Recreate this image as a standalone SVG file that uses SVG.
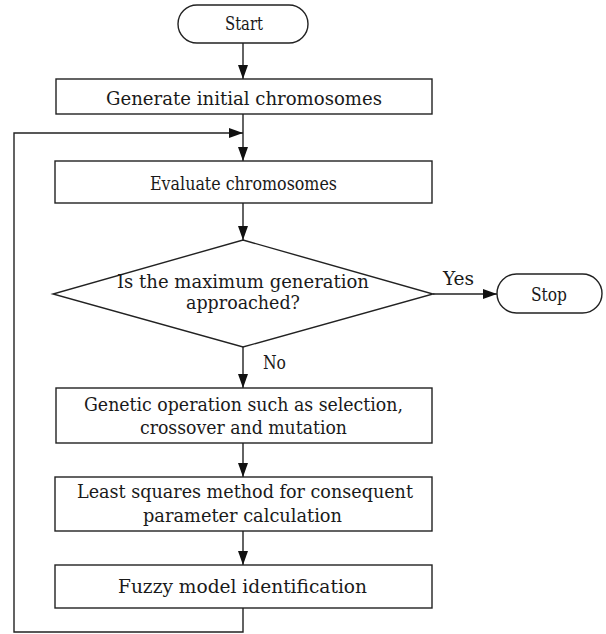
<svg xmlns="http://www.w3.org/2000/svg" width="606" height="634" viewBox="0 0 606 634">
<style>
.shape{fill:#fff;stroke:#222;stroke-width:1.4}
.line{fill:none;stroke:#222;stroke-width:1.4}
text{font-family:'DejaVu Serif Condensed','DejaVu Serif','Liberation Serif',serif;font-stretch:condensed;font-size:18.5px;fill:#1a1a1a}
</style>
<defs>
<marker id="ah" markerWidth="14" markerHeight="10" refX="14" refY="5" orient="auto" markerUnits="userSpaceOnUse">
<path d="M0,0 L14,5 L0,10 Z" fill="#111"/>
</marker>
</defs>
<rect width="606" height="634" fill="#fff"/>
<g id="connectors">
<line class="line" x1="243" y1="43" x2="243" y2="79" marker-end="url(#ah)"/>
<line class="line" x1="243" y1="114" x2="243" y2="161" marker-end="url(#ah)"/>
<line class="line" x1="243" y1="203" x2="243" y2="240" marker-end="url(#ah)"/>
<line class="line" x1="433" y1="294" x2="497" y2="294" marker-end="url(#ah)"/>
<line class="line" x1="243" y1="347" x2="243" y2="388" marker-end="url(#ah)"/>
<line class="line" x1="243" y1="443" x2="243" y2="477" marker-end="url(#ah)"/>
<line class="line" x1="243" y1="531" x2="243" y2="565" marker-end="url(#ah)"/>
<polyline class="line" points="243,608 243,632 14,632 14,133 243,133" marker-end="url(#ah)"/>
<text x="443" y="285" textLength="31" lengthAdjust="spacingAndGlyphs">Yes</text>
<text x="263" y="369" textLength="23" lengthAdjust="spacingAndGlyphs">No</text>
</g>
<g id="start">
<rect class="shape" x="178" y="5" width="130" height="38" rx="19" ry="19"/>
<text x="225" y="30" textLength="38" lengthAdjust="spacingAndGlyphs">Start</text>
</g>
<g id="generate">
<rect class="shape" x="56" y="79" width="376" height="35"/>
<text x="106" y="105" textLength="276" lengthAdjust="spacingAndGlyphs">Generate initial chromosomes</text>
</g>
<g id="evaluate">
<rect class="shape" x="55" y="161" width="377" height="42"/>
<text x="150" y="190" textLength="187" lengthAdjust="spacingAndGlyphs">Evaluate chromosomes</text>
</g>
<g id="decision">
<polygon class="shape" points="243,240 433,294 243,347 53,294"/>
<text x="117" y="288" textLength="252" lengthAdjust="spacingAndGlyphs">Is the maximum generation</text>
<text x="186" y="309" textLength="114" lengthAdjust="spacingAndGlyphs">approached?</text>
</g>
<g id="stop">
<rect class="shape" x="497" y="274" width="105" height="39" rx="19.5" ry="19.5"/>
<text x="531" y="301" textLength="36" lengthAdjust="spacingAndGlyphs">Stop</text>
</g>
<g id="genetic">
<rect class="shape" x="56" y="388" width="376" height="55"/>
<text x="84" y="411" textLength="319" lengthAdjust="spacingAndGlyphs">Genetic operation such as selection,</text>
<text x="140" y="434" textLength="207" lengthAdjust="spacingAndGlyphs">crossover and mutation</text>
</g>
<g id="leastsquares">
<rect class="shape" x="55" y="477" width="377" height="54"/>
<text x="77" y="498" textLength="336" lengthAdjust="spacingAndGlyphs">Least squares method for consequent</text>
<text x="143" y="522" textLength="199" lengthAdjust="spacingAndGlyphs">parameter calculation</text>
</g>
<g id="fuzzy">
<rect class="shape" x="55" y="565" width="377" height="43"/>
<text x="118" y="593" textLength="249" lengthAdjust="spacingAndGlyphs">Fuzzy model identification</text>
</g>
</svg>
